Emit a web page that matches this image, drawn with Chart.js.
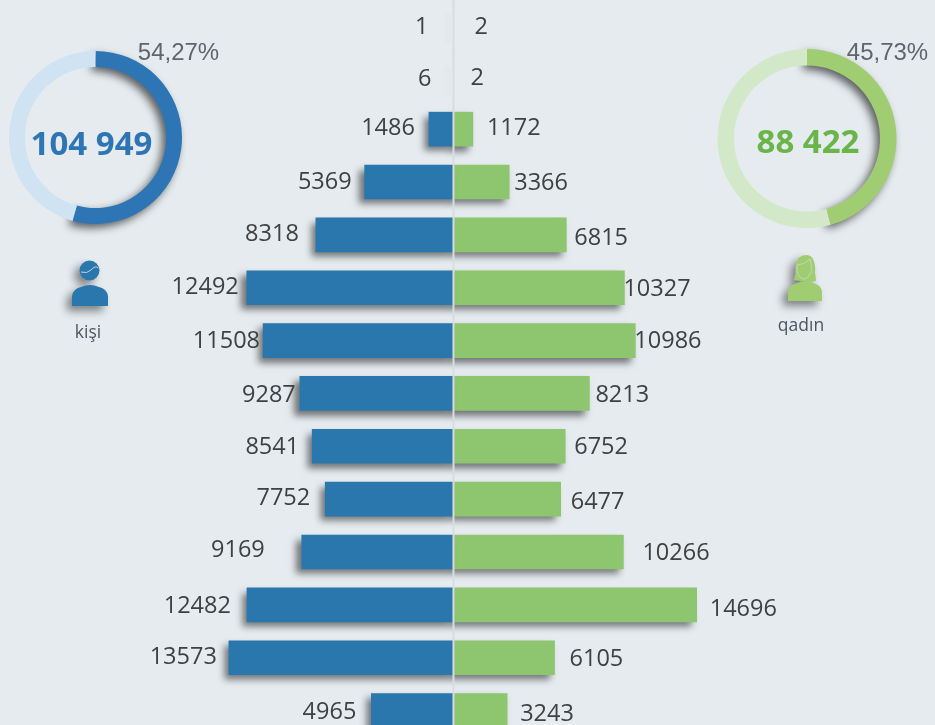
<!DOCTYPE html>
<html>
<head>
<meta charset="utf-8">
<script src="https://cdn.jsdelivr.net/npm/chart.js@4/dist/chart.umd.min.js"></script>
<style>
html, body { margin:0; padding:0; width:935px; height:725px; overflow:hidden; background:#E5EBEF; }
#wrap { position:relative; width:935px; height:725px; overflow:hidden; }
canvas { position:absolute; }
#graficoBarras { left:0; top:-3px; }
#aneisKisi { left:-5px; top:37px; }
#aneisQadin { left:707px; top:38px; }
.txt { position:absolute; white-space:nowrap; transform:translate(-50%,-50%); line-height:1; }
.pct { font:24px "Liberation Sans", sans-serif; color:#5C6670; }
.num { font:bold 33px "Open Sans", sans-serif; }
.cap { font:17.5px "Open Sans", sans-serif; color:#4A5664; }
svg { position:absolute; overflow:visible; filter:drop-shadow(-5px 5px 4px rgba(0,0,0,.45)); }
</style>
</head>
<body>
<div id="wrap">
    <canvas id="graficoBarras" width="935" height="740"></canvas>
    <canvas id="aneisKisi" width="201" height="201"></canvas>
    <canvas id="aneisQadin" width="200" height="201"></canvas>

    <div class="txt pct" style="left:178.5px;top:51.5px">54,27%</div>
    <div class="txt pct" style="left:887.5px;top:52px">45,73%</div>
    <div class="txt num" style="left:91.5px;top:142px;color:#2E75B6">104 949</div>
    <div class="txt num" style="left:808px;top:140px;color:#69B54A">88 422</div>
    <div class="txt cap" style="left:88px;top:331px">kişi</div>
    <div class="txt cap" style="left:801px;top:324px">qadın</div>

    <svg style="left:0;top:0" width="935" height="725">
        <circle cx="89.5" cy="270.5" r="10" fill="#2A77AE"/>
        <path d="M81 272 Q87 274 91 270 Q95 265 98.5 268" fill="none" stroke="#BBD3E4" stroke-width="1"/>
        <path d="M72 306 L72 296 Q73 289 81 287 Q90 283 99 287 Q107 289 108 296 L108 306 Z" fill="#2A77AE"/>
    </svg>
    <svg style="left:0;top:0" width="935" height="725">
        <path d="M794 280 Q796 274 795.5 266 Q797 255 806 255 Q811 255 813 259 Q816 266 815 273 Q816 278 816 281 Q808 283 794 280 Z" fill="#A1CD72"/>
        <path d="M797 265 Q804 265 810 259 Q812 268 811 272 Q808 279 803.5 279 Q799 278 797 272 Z" fill="#A1CD72" stroke="#C9D9C2" stroke-width=".8"/>
        <path d="M788 301 L788 291 Q789 285 797 283 Q805 279 813 283 Q821 285 822 291 L822 301 Z" fill="#A1CD72"/>
    </svg>
</div>

<script>
// ===========================
// DADOS
// ===========================

const faixas = ["f1","f2","f3","f4","f5","f6","f7","f8","f9","f10","f11","f12","f13","f14"];

const kisi  = [1, 6, 1486, 5369, 8318, 12492, 11508, 9287, 8541, 7752, 9169, 12482, 13573, 4965];
const qadin = [2, 2, 1172, 3366, 6815, 10327, 10986, 8213, 6752, 6477, 10266, 14696, 6105, 3243];

const aneisKisi  = [54.27, 45.73];
const aneisQadin = [45.73, 54.27];

// ajuste dos rotulos em relacao a ponta da barra (px)
const kisiGapX  = [25, 22, 14, 13, 17, 8, 3, 4, 13, 15, 37, 16, 12, 15];
const kisiGapY  = [4, 3, -1, 0, -1, 0, 1, 2, 1, -1, -2, 1, 0, 2];
const qadinGapX = [21, 17, 14, 5, 8, -1, -1, 6, 9, 10, 19, 13, 15, 13];
const qadinGapY = [4, 2, -1, 1, 3, 2, 1, 2, 1, 3, 1, 4, 2, 4];


// ===========================
// PLUGINS
// ===========================

const sombraBarras = {
    id:"sombraBarras",
    beforeDatasetsDraw(chart){
        const ctx = chart.ctx;
        ctx.save();
        ctx.shadowColor = "rgba(0,0,0,0.5)";
        ctx.shadowBlur = 7;
        ctx.shadowOffsetX = -5;
        ctx.shadowOffsetY = 5;
    },
    afterDatasetsDraw(chart){
        chart.ctx.restore();
    }
};

const linhaRotulos = {
    id:"linhaRotulos",
    afterDatasetsDraw(chart){

        const ctx = chart.ctx;
        const x = chart.scales.x;
        const y = chart.scales.y;

        // linha central
        ctx.save();
        ctx.strokeStyle = "#D9DCDE";
        ctx.lineWidth = 2;
        ctx.beginPath();
        ctx.moveTo(x.getPixelForValue(0), 0);
        ctx.lineTo(x.getPixelForValue(0), chart.height);
        ctx.stroke();

        // rotulos
        ctx.font = '23.5px "Open Sans", sans-serif';
        ctx.fillStyle = "#404040";
        ctx.textBaseline = "middle";

        ctx.textAlign = "right";
        kisi.forEach((v,i)=>{
            ctx.fillText(v, x.getPixelForValue(-v) - kisiGapX[i], y.getPixelForValue(i) + kisiGapY[i]);
        });

        ctx.textAlign = "left";
        qadin.forEach((v,i)=>{
            ctx.fillText(v, x.getPixelForValue(v) + qadinGapX[i], y.getPixelForValue(i) + qadinGapY[i]);
        });

        ctx.restore();
    }
};

// so a parte escura do anel tem sombra, e a parte clara fica por cima dela
const sombraAnel = {
    id:"sombraAnel",
    beforeDatasetDraw(chart, args){
        const ctx = chart.ctx;
        ctx.save();
        ctx.shadowColor = "rgba(0,0,0,0.6)";
        ctx.shadowBlur = 9;
        ctx.shadowOffsetX = -4;
        ctx.shadowOffsetY = 4;
        args.meta.data[0].draw(ctx);
        ctx.restore();
        args.meta.data[1].draw(ctx);
        return false;
    }
};

// barras quase vazias deixam so uma sombra fraca
function corBarra(cor){
    return c => Math.abs(c.raw) < 100 ? "rgba(0,0,0,0.25)" : cor;
}


// ===========================
// GRAFICO DE BARRAS
// ===========================

new Chart(document.getElementById("graficoBarras"), {
    type:"bar",
    data:{
        labels:faixas,
        datasets:[
            { label:"kişi", data:kisi.map(v=>-v), backgroundColor:corBarra("#2A77AE"), barThickness:34 },
            { label:"qadın", data:qadin, backgroundColor:corBarra("#8DC66F"), barThickness:34 }
        ]
    },
    options:{
        indexAxis:"y",
        responsive:false,
        animation:false,
        layout:{ padding:0 },
        plugins:{ legend:{ display:false }, tooltip:{ enabled:false } },
        scales:{
            x:{ display:false, stacked:true, min:-27402, max:29094 },
            y:{ display:false, stacked:true }
        }
    },
    plugins:[sombraBarras, linhaRotulos]
});


// ===========================
// ANEIS
// ===========================

function anel(id, valores, cores, folga){
    new Chart(document.getElementById(id), {
        type:"doughnut",
        data:{
            datasets:[{ data:valores, backgroundColor:cores, borderWidth:0 }]
        },
        options:{
            responsive:false,
            animation:false,
            cutout:"81.6%",
            layout:{ padding:folga },
            plugins:{ legend:{ display:false }, tooltip:{ enabled:false } }
        },
        plugins:[sombraAnel]
    });
}

anel("aneisKisi", aneisKisi, ["#2E75B6","#CFE3F2"], 14);
anel("aneisQadin", aneisQadin, ["#A1CD72","#D3E8C8"], 10.5);
</script>
</body>
</html>
